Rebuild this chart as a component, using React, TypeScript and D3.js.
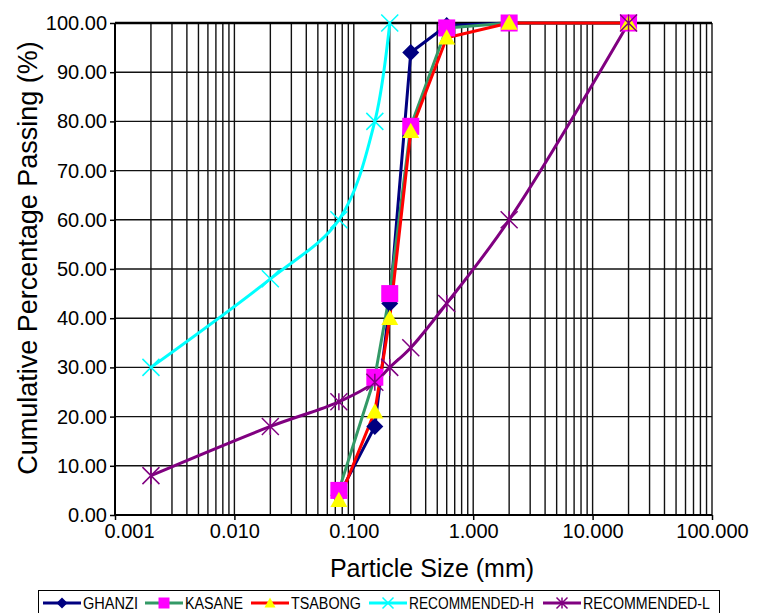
import React, { useEffect, useRef } from 'react';
import * as d3 from 'd3';

// particle sizes (mm) and cumulative % passing
const sampleSizes = [0.075, 0.15, 0.2, 0.3, 0.6, 2, 20];
const ghanzi = [4, 18, 43, 94, 99.5, 100, 100];
const kasane = [5, 28, 45, 79, 99, 100, 100];
const tsabong = [3, 21, 40, 78, 97, 100, 100];

const recHSizes = [0.002, 0.02, 0.075, 0.15, 0.2];
const recH = [30, 48, 60, 80, 100];
const recLSizes = [0.002, 0.02, 0.075, 0.15, 0.2, 0.3, 0.6, 2, 20];
const recL = [8, 18, 23, 27, 30, 34, 43, 60, 100];

const yTicks = [0, 10, 20, 30, 40, 50, 60, 70, 80, 90, 100];
const xTicks = [0.001, 0.01, 0.1, 1, 10, 100];
const legendNames = ['GHANZI', 'KASANE', 'TSABONG', 'RECOMMENDED-H', 'RECOMMENDED-L'];

type Series = {
  name: string;
  sizes: number[];
  values: number[];
  line: string;
  marker: string;
  shape: string;
  smooth: boolean;
};

const series: Series[] = [
  { name: legendNames[0], sizes: sampleSizes, values: ghanzi, line: '#000080', marker: '#000080', shape: 'diamond', smooth: false },
  { name: legendNames[1], sizes: sampleSizes, values: kasane, line: '#339966', marker: '#ff00ff', shape: 'square', smooth: false },
  { name: legendNames[2], sizes: sampleSizes, values: tsabong, line: '#ff0000', marker: '#ffff00', shape: 'triangle', smooth: false },
  { name: legendNames[3], sizes: recHSizes, values: recH, line: '#00ffff', marker: '#00ffff', shape: 'x', smooth: true },
  { name: legendNames[4], sizes: recLSizes, values: recL, line: '#800080', marker: '#800080', shape: 'star', smooth: true },
];

const FONT = '"Liberation Sans", Arial, sans-serif';

function drawMarker(g: any, shape: string, color: string, x: number, y: number, s: number) {
  const h = s / 2;
  if (shape === 'diamond') {
    g.append('path').attr('d', `M${x},${y - h}L${x + h},${y}L${x},${y + h}L${x - h},${y}Z`).attr('fill', color);
  } else if (shape === 'square') {
    g.append('rect').attr('x', x - h).attr('y', y - h).attr('width', s).attr('height', s).attr('fill', color);
  } else if (shape === 'triangle') {
    g.append('path').attr('d', `M${x},${y - h}L${x + h},${y + h * 0.8}L${x - h},${y + h * 0.8}Z`).attr('fill', color);
  } else {
    const p = `M${x - h},${y - h}L${x + h},${y + h}M${x + h},${y - h}L${x - h},${y + h}` +
      (shape === 'star' ? `M${x},${y - h}L${x},${y + h}` : '');
    g.append('path').attr('d', p).attr('stroke', color).attr('stroke-width', 1.5).attr('fill', 'none');
  }
}

export default function App() {
  const ref = useRef<SVGSVGElement>(null);

  useEffect(() => {
    const width = 769;
    const height = 613;
    const margin = { top: 23, right: 57, bottom: 98, left: 115 };
    const w = width - margin.left - margin.right;
    const h = height - margin.top - margin.bottom;

    const svg = d3.select(ref.current);
    svg.selectAll('*').remove();

    const x = d3.scaleLog().domain([0.001, 100]).range([0, w]);
    const y = d3.scaleLinear().domain([0, 100]).range([h, 0]);

    const g = svg.append('g').attr('transform', `translate(${margin.left},${margin.top})`);

    // log grid: every 1..9 in each decade
    const minor: number[] = [];
    for (let k = -3; k < 2; k++) {
      for (let m = 1; m < 10; m++) minor.push(m * Math.pow(10, k));
    }
    minor.push(100);
    g.append('g')
      .selectAll('line')
      .data(minor)
      .join('line')
      .attr('x1', d => x(d))
      .attr('x2', d => x(d))
      .attr('y1', 0)
      .attr('y2', h)
      .attr('stroke', '#111')
      .attr('stroke-width', 1.4);
    g.append('g')
      .selectAll('line')
      .data(yTicks)
      .join('line')
      .attr('x1', 0)
      .attr('x2', w)
      .attr('y1', d => y(d))
      .attr('y2', d => y(d))
      .attr('stroke', '#111')
      .attr('stroke-width', 1.4);
    g.append('line').attr('x1', 0).attr('x2', w).attr('y1', 0).attr('y2', 0)
      .attr('stroke', '#000').attr('stroke-width', 2.5);

    // axes
    const yAxis = g.append('g')
      .call(d3.axisLeft(y).tickValues(yTicks).tickSize(5).tickPadding(3).tickFormat(d => d3.format('.2f')(d as number)));
    yAxis.select('.domain').attr('stroke-width', 2).attr('d', `M0,${h}V0`);
    yAxis.selectAll('.tick line').attr('stroke-width', 1.5);
    yAxis.selectAll('text').attr('font-size', 20).attr('font-family', FONT).attr('fill', '#000');

    const xAxis = g.append('g')
      .attr('transform', `translate(0,${h})`)
      .call(d3.axisBottom(x).tickValues(xTicks).tickSize(5).tickPadding(4).tickFormat(d => d3.format('.3f')(d as number)));
    xAxis.select('.domain').attr('stroke-width', 2).attr('d', `M0,0H${w}`);
    xAxis.selectAll('.tick line').attr('stroke-width', 1.5);
    xAxis.selectAll('text').attr('font-size', 20).attr('font-family', FONT).attr('fill', '#000');
    xAxis.selectAll('.tick text').filter((d: any) => d === 0.001).attr('dx', 14);

    // titles
    svg.append('text')
      .attr('x', 432)
      .attr('y', 577)
      .attr('text-anchor', 'middle')
      .attr('font-family', FONT)
      .attr('font-size', 25)
      .text('Particle Size (mm)');
    svg.append('text')
      .attr('transform', `translate(37,258) rotate(-90)`)
      .attr('text-anchor', 'middle')
      .attr('font-family', FONT)
      .attr('font-size', 27)
      .text('Cumulative Percentage Passing (%)');

    // lines first, markers on top
    const straight = d3.line<[number, number]>()
      .x(d => x(d[0]))
      .y(d => y(d[1]));
    const smooth = d3.line<[number, number]>()
      .x(d => x(d[0]))
      .y(d => y(d[1]))
      .curve(d3.curveCatmullRom.alpha(0.5));
    series.forEach(s => {
      const pts = s.sizes.map((v, i) => [v, s.values[i]] as [number, number]);
      g.append('path')
        .attr('d', (s.smooth ? smooth : straight)(pts))
        .attr('fill', 'none')
        .attr('stroke', s.line)
        .attr('stroke-width', 3)
        .attr('stroke-linejoin', 'round');
    });
    series.forEach(s => {
      const mg = g.append('g');
      s.sizes.forEach((v, i) => drawMarker(mg, s.shape, s.marker, x(v), y(s.values[i]), 17));
    });

    // legend
    const lg = svg.append('g');
    lg.append('rect')
      .attr('x', 38.5)
      .attr('y', 590.5)
      .attr('width', 681)
      .attr('height', 30)
      .attr('fill', '#fff')
      .attr('stroke', '#000')
      .attr('stroke-width', 1);
    const itemX = [43, 145, 251, 369, 543];
    const textW = [55, 58, 70, 125, 127];
    series.forEach((s, i) => {
      const x0 = itemX[i];
      const cy = 603;
      lg.append('line').attr('x1', x0).attr('x2', x0 + 38).attr('y1', cy).attr('y2', cy)
        .attr('stroke', s.line).attr('stroke-width', 3);
      drawMarker(lg, s.shape, s.marker, x0 + 19, cy, 11);
      lg.append('text')
        .attr('x', x0 + 40)
        .attr('y', cy + 5.5)
        .attr('font-family', FONT)
        .attr('font-size', 16)
        .attr('textLength', textW[i])
        .attr('lengthAdjust', 'spacingAndGlyphs')
        .text(s.name);
    });
  }, []);

  return (
    <svg
      ref={ref}
      width={769}
      height={613}
      style={{ position: 'absolute', left: 0, top: 0, background: '#fff' }}
    />
  );
}
